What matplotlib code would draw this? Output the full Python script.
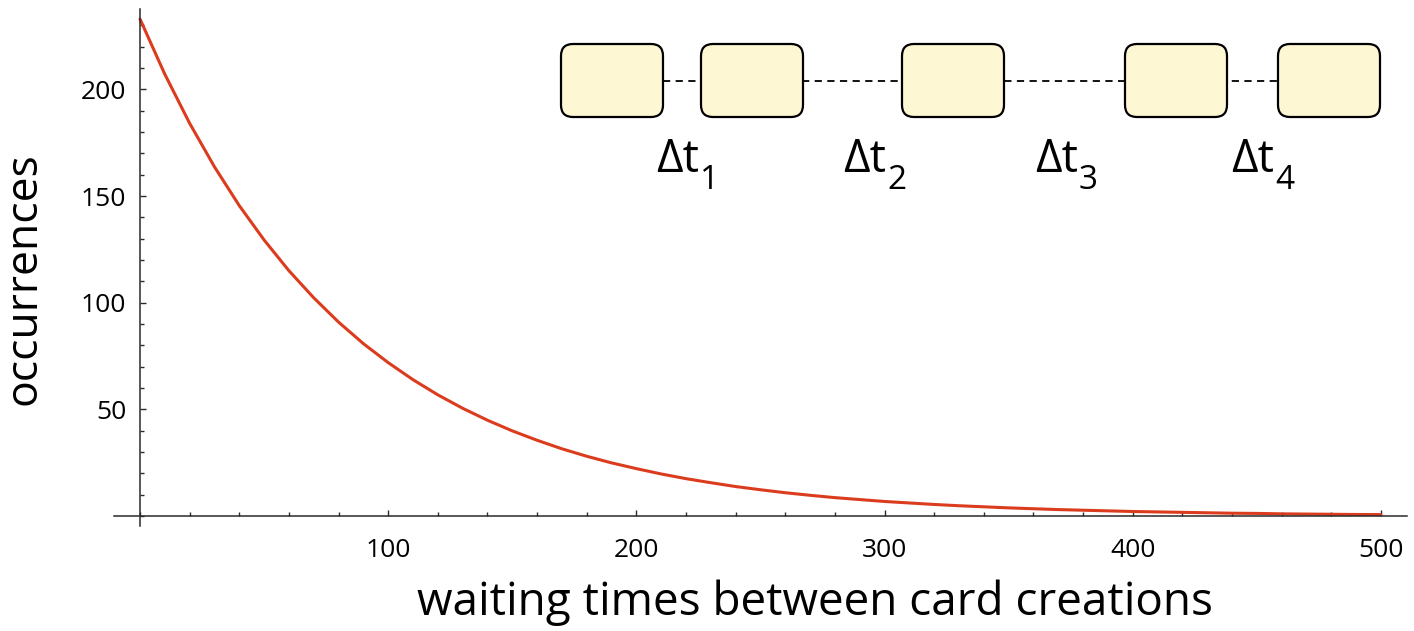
"""Waiting-time distribution between card creations, with a small timeline sketch."""
import matplotlib
matplotlib.use("Agg")
import matplotlib.pyplot as plt
from matplotlib.patches import FancyBboxPatch
from matplotlib.ticker import MultipleLocator

plt.rcParams["font.family"] = ["Open Sans", "DejaVu Sans"]

# waiting time (x) and number of occurrences (y)
waiting_time = [0, 10, 20, 30, 40, 50, 60, 70, 80, 90,
                100, 110, 120, 130, 140, 150, 160, 170, 180, 190,
                200, 210, 220, 230, 240, 250, 260, 270, 280, 290,
                300, 310, 320, 330, 340, 350, 360, 370, 380, 390,
                400, 410, 420, 430, 440, 450, 460, 470, 480, 490, 500]
occurrences = [233.0, 207.1, 184.1, 163.7, 145.5, 129.4, 115.0, 102.3, 90.9, 80.8,
               71.9, 63.9, 56.8, 50.5, 44.9, 39.9, 35.5, 31.5, 28.0, 24.9,
               22.2, 19.7, 17.5, 15.6, 13.8, 12.3, 10.9, 9.7, 8.6, 7.7,
               6.8, 6.1, 5.4, 4.8, 4.3, 3.8, 3.4, 3.0, 2.7, 2.4,
               2.1, 1.9, 1.7, 1.5, 1.3, 1.2, 1.0, 0.9, 0.8, 0.7, 0.65]

x_ticks = [100, 200, 300, 400, 500]
y_ticks = [50, 100, 150, 200]
gap_subscripts = ["1", "2", "3", "4"]

CURVE_COLOR = "#dc3c1e"
AXIS_COLOR = "#2a2a2a"
CARD_FILL = "#fdf7d3"

fig = plt.figure(figsize=(14.14, 6.31), dpi=100)
ax = fig.add_axes([0.0806, 0.1664, 0.9144, 0.8193])

ax.plot(waiting_time, occurrences, color=CURVE_COLOR, lw=2.2, solid_capstyle="round")

ax.set_xlim(-10.5, 510.5)
ax.set_ylim(-4.7, 237.7)

# Mathematica-style axes crossing at the origin
for side in ("top", "right"):
    ax.spines[side].set_visible(False)
for side in ("left", "bottom"):
    ax.spines[side].set_position(("data", 0))
    ax.spines[side].set_color(AXIS_COLOR)
    ax.spines[side].set_linewidth(1.1)

ax.set_xticks(x_ticks)
ax.set_yticks(y_ticks)
ax.xaxis.set_minor_locator(MultipleLocator(20))
ax.yaxis.set_minor_locator(MultipleLocator(10))
ax.tick_params(which="both", direction="in", color=AXIS_COLOR, width=1.0)
ax.tick_params(which="major", length=4.5, labelsize=19)
ax.tick_params(which="minor", length=2.6)
ax.tick_params(axis="x", which="major", pad=16)
ax.tick_params(axis="y", which="major", pad=10)

ax.set_xlabel("waiting times between card creations", fontsize=33, va="top")
ax.set_ylabel("occurrences", fontsize=32)
ax.xaxis.set_label_coords(0.542, -0.104)
ax.yaxis.set_label_coords(-0.052, 0.478)

# timeline sketch: cards joined by a dashed line, gaps labelled
sk = fig.add_axes([0.0, 0.0, 1.0, 1.0])
sk.set_xlim(0, 1414)
sk.set_ylim(631, 0)
sk.axis("off")
sk.patch.set_alpha(0)

card_left = [561, 701, 902, 1125, 1278]
card_w, card_top, card_h = 102, 44, 73
label_right = [699, 886, 1078, 1274]
line_y = card_top + card_h / 2
sk.plot([card_left[0] + card_w, card_left[-1]], [line_y, line_y],
        color="black", lw=1.3, ls=(0, (4, 3)), zorder=1)
for left in card_left:
    sk.add_patch(FancyBboxPatch((left + 12, card_top + 12), card_w - 24, card_h - 24,
                                boxstyle="round,pad=12", fc=CARD_FILL, ec="black",
                                lw=1.6, zorder=2))
for xr, sub in zip(label_right, gap_subscripts):
    sk.text(xr, 172, "\u0394t", fontsize=33, ha="right", va="baseline")
    sk.text(xr + 1, 189, sub, fontsize=24, ha="left", va="baseline")

fig.savefig("out.png", dpi=100)
